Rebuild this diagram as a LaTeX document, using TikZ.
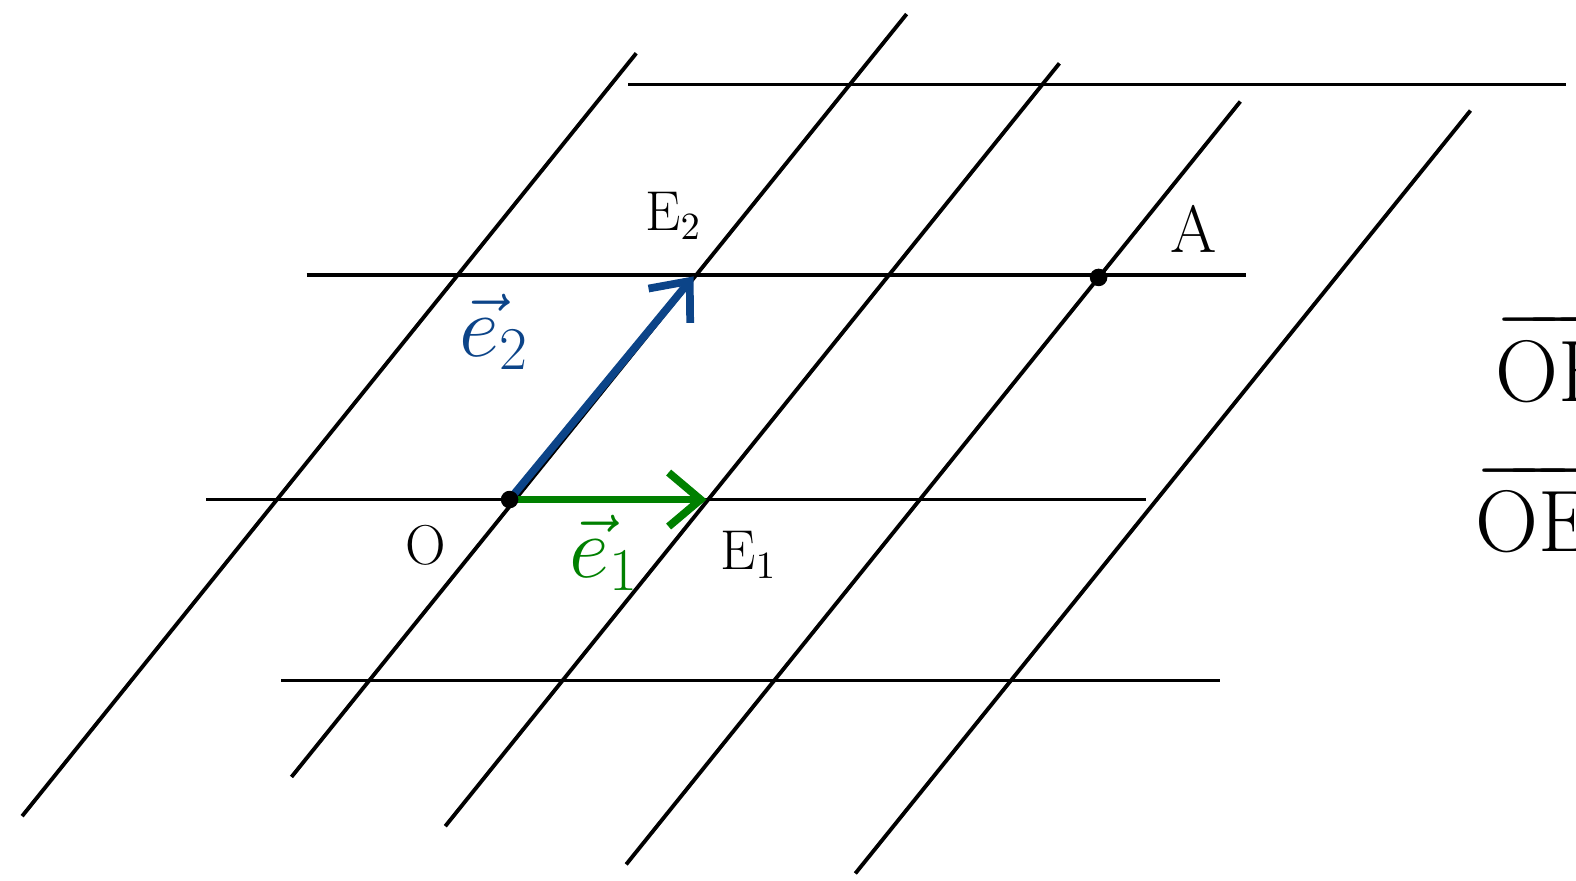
\documentclass[tikz,border=0pt]{standalone}
\usepackage{amsmath}
\usepackage{tikz}
\usetikzlibrary{arrows.meta, positioning}
\definecolor{vecblue}{RGB}{12,68,136}
\definecolor{vecgreen}{RGB}{0,128,0}

\begin{document}
\begin{tikzpicture}[
  x=0.01005cm, y=-0.01005cm,
  gridline/.style = {line width=1.1pt, black},
  basisvec/.style = {line width=2.2pt, line cap=round, -{Straight Barb[length=3.2mm, width=5.4mm, line width=2.2pt]}},
  pt/.style = {circle, fill=black, inner sep=0pt, minimum size=5pt},
  lbl/.style = {font=\fontsize{16}{18}\selectfont},
  veclbl/.style = {font=\fontsize{24}{28}\selectfont}
]
\useasboundingbox (0,0) rectangle (1568,876);
\clip (0,0) rectangle (1568,876);

% points of the lattice
\coordinate (O) at (507,497);
\coordinate (E1) at (703,497);
\coordinate (E2) at (690,275);
\coordinate (A) at (1093,276);

% horizontal lines
\draw[gridline] (625,84) -- (1558,84);
\draw[gridline] (305,274) -- (1240,274);
\draw[gridline] (205,497) -- (1140,497);
\draw[gridline] (280,677) -- (1214,677);

% slanted lines
\draw[gridline] (22,812) -- (633,53);
\draw[gridline] (290,773) -- (902,14);
\draw[gridline] (443,822) -- (1054,63);
\draw[gridline] (623,860) -- (1234,101);
\draw[gridline] (851,869) -- (1463,110);

% basis vectors
\draw[basisvec, vecblue] (O) -- (E2);
\draw[basisvec, vecgreen] (O) -- (E1);

\node[pt] (Odot) at (O) {};
\node[pt] (Adot) at (A) {};

% labels
\node[lbl] (Olbl) at (424,543) {O};
\node[lbl] (E1lbl) at (745,552) {E$_1$};
\node[lbl] (E2lbl) at (670,215) {E$_2$};
\node[lbl, font=\fontsize{19}{22}\selectfont] (Albl) at (1188,228) {A};
\node[veclbl, text=vecblue] (e2lbl) at (492,330) {$\vec{e}_2$};
\node[veclbl, text=vecgreen] (e1lbl) at (601,550) {$\vec{e}_1$};

% cut-off notes at the right edge
\node[veclbl, anchor=west] (OEtop) at (1476,360) {$\overrightarrow{\mathrm{OE}_1}$};
\node[veclbl, anchor=west] (OEbot) at (1456,510) {$\overrightarrow{\mathrm{OE}_2}$};
\end{tikzpicture}
\end{document}
